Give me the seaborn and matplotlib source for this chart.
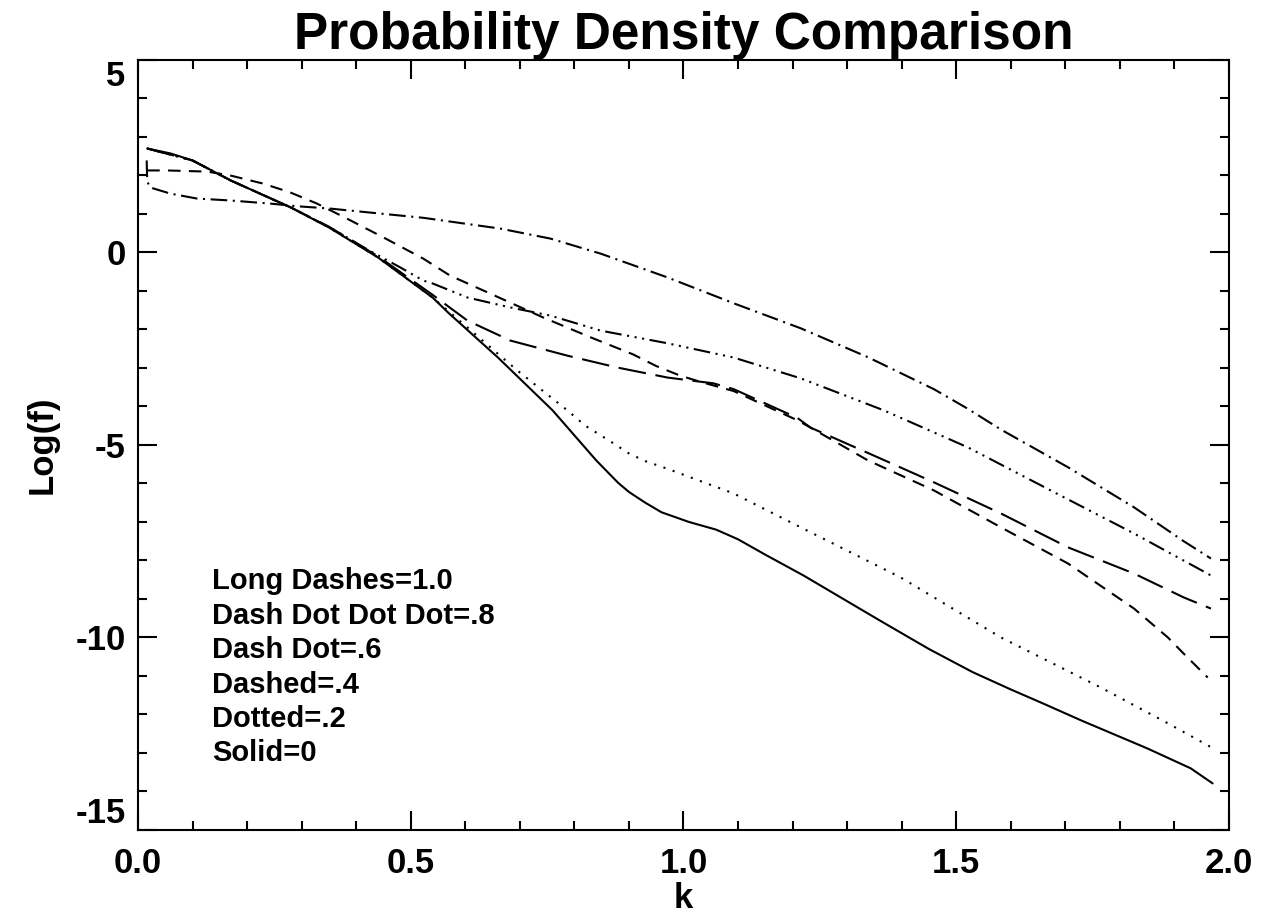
import numpy as np
import pandas as pd
import seaborn as sns
import matplotlib.pyplot as plt
from matplotlib.ticker import MultipleLocator

# values
k_solid = [0.017, 0.06, 0.10, 0.17, 0.28, 0.35, 0.44, 0.54, 0.57, 0.66, 0.76, 0.80, 0.84,
           0.88, 0.90, 0.93, 0.96, 1.01, 1.06, 1.10, 1.15, 1.22, 1.36, 1.45, 1.53, 1.60,
           1.66, 1.73, 1.85, 1.93, 1.97]
f_solid = [2.70, 2.57, 2.39, 1.87, 1.17, 0.65, -0.13, -1.17, -1.58, -2.73, -4.10, -4.75, -5.40,
           -5.98, -6.22, -6.50, -6.75, -7.00, -7.20, -7.45, -7.85, -8.39, -9.56, -10.30, -10.90,
           -11.35, -11.72, -12.16, -12.88, -13.40, -13.79]

k_dotted = [0.017, 0.10, 0.17, 0.28, 0.35, 0.44, 0.54, 0.60, 0.695, 0.787, 0.82, 0.872, 0.90,
            0.93, 0.971, 1.02, 1.092, 1.215, 1.398, 1.582, 1.765, 1.888, 1.971]
f_dotted = [2.70, 2.39, 1.87, 1.17, 0.65, -0.13, -1.17, -1.90, -3.06, -4.10, -4.50, -4.96, -5.22,
            -5.42, -5.62, -5.88, -6.26, -7.14, -8.44, -10.00, -11.30, -12.23, -12.88]

k_dashed = [0.017, 0.053, 0.127, 0.169, 0.229, 0.279, 0.328, 0.383, 0.450, 0.523, 0.572,
            0.646, 0.743, 0.829, 0.908, 0.95, 0.994, 1.031, 1.092, 1.209, 1.233, 1.338, 1.459,
            1.582, 1.705, 1.826, 1.888, 1.917, 1.961]
f_dashed = [2.13, 2.13, 2.10, 2.00, 1.79, 1.56, 1.27, 0.88, 0.39, -0.16, -0.60,
            -1.07, -1.69, -2.20, -2.65, -2.95, -3.20, -3.36, -3.60, -4.36, -4.55, -5.40, -6.18,
            -7.14, -8.08, -9.25, -10.00, -10.42, -11.04]

k_dashdot = [0.016, 0.017, 0.022, 0.059, 0.108, 0.169, 0.242, 0.292, 0.352, 0.444, 0.523,
             0.664, 0.756, 0.848, 0.971, 1.092, 1.215, 1.338, 1.459, 1.52, 1.582, 1.705, 1.826,
             1.917, 1.967]
f_dashdot = [2.39, 1.85, 1.69, 1.53, 1.40, 1.35, 1.27, 1.20, 1.14, 1.01, 0.90,
             0.62, 0.36, -0.03, -0.65, -1.32, -1.97, -2.72, -3.55, -4.05, -4.60, -5.58, -6.62,
             -7.50, -7.95]

k_dash3dot = [0.017, 0.10, 0.17, 0.28, 0.35, 0.376, 0.42, 0.481, 0.523, 0.541, 0.604, 0.683,
              0.756, 0.848, 0.971, 1.092, 1.215, 1.367, 1.521, 1.673, 1.826, 1.967]
f_dash3dot = [2.70, 2.39, 1.87, 1.17, 0.66, 0.45, 0.08, -0.39, -0.73, -0.81, -1.17, -1.43,
              -1.64, -2.03, -2.36, -2.73, -3.27, -4.10, -5.06, -6.18, -7.30, -8.39]

k_longdash = [0.017, 0.10, 0.17, 0.28, 0.35, 0.44, 0.54, 0.604, 0.683, 0.787, 0.879, 0.971,
              1.055, 1.092, 1.209, 1.233, 1.356, 1.459, 1.582, 1.705, 1.826, 1.917, 1.967]
f_longdash = [2.70, 2.39, 1.87, 1.17, 0.67, -0.10, -1.10, -1.77, -2.29, -2.68, -2.99, -3.25,
              -3.40, -3.55, -4.30, -4.55, -5.32, -5.97, -6.78, -7.66, -8.34, -8.96, -9.25]

labels = ["Long Dashes=1.0", "Dash Dot Dot Dot=.8", "Dash Dot=.6",
          "Dashed=.4", "Dotted=.2", "Solid=0"]

y_ticks = [-15, -10, -5, 0, 5]

series = {
    "solid": (k_solid, f_solid),
    "dotted": (k_dotted, f_dotted),
    "dashed": (k_dashed, f_dashed),
    "dashdot": (k_dashdot, f_dashdot),
    "dash3dot": (k_dash3dot, f_dash3dot),
    "longdash": (k_longdash, f_longdash),
}
df = pd.concat([pd.DataFrame({"k": k, "logf": f, "style": name})
                for name, (k, f) in series.items()], ignore_index=True)

sns.set_theme(style="ticks")
plt.rcParams["font.family"] = ["Liberation Sans", "DejaVu Sans"]
plt.rcParams["font.weight"] = "bold"
plt.rcParams["lines.scale_dashes"] = False
for key in ["text.color", "axes.labelcolor", "xtick.color", "ytick.color", "axes.edgecolor"]:
    plt.rcParams[key] = "black"

dashes = {
    "solid": "",
    "dotted": (1.5, 5.5),
    "dashed": (9, 6),
    "dashdot": (12, 4, 1.5, 4),
    "dash3dot": (12, 4, 1.5, 4, 1.5, 4, 1.5, 4),
    "longdash": (20, 7),
}

fig = plt.figure(figsize=(12.75, 9.18), dpi=100)
ax = fig.add_axes([0.1082, 0.0959, 0.8557, 0.8388])

sns.lineplot(data=df, x="k", y="logf", style="style", dashes=dashes,
             color="black", linewidth=1.5, estimator=None, sort=False,
             legend=False, ax=ax)

ax.set_xlim(0, 2.0)
ax.set_ylim(-15, 5)
ax.xaxis.set_major_locator(MultipleLocator(0.5))
ax.xaxis.set_minor_locator(MultipleLocator(0.1))
ax.yaxis.set_minor_locator(MultipleLocator(1))
ax.xaxis.set_major_formatter(plt.FuncFormatter(lambda v, p: f"{v:.1f}"))
ax.tick_params(which="both", direction="in", top=True, right=True, width=1.5,
               labelsize=25, color="black")
ax.tick_params(which="major", length=14)
ax.tick_params(axis="y", which="major", pad=9)
ax.tick_params(axis="x", which="major", pad=12)
ax.tick_params(which="minor", length=6.5)
ax.set_yticks(y_ticks, [str(v) for v in y_ticks])
for s in ax.spines.values():
    s.set_linewidth(1.5)

ax.set_xlabel("k", fontsize=25, fontweight="bold", labelpad=2)
ax.set_ylabel("Log(f)", fontsize=25, fontweight="bold", labelpad=12)
ax.set_title("Probability Density Comparison", fontsize=37, fontweight="bold", pad=8)

for i, txt in enumerate(labels):
    ax.text(0.068, 0.323 - i * 0.0447, txt, transform=ax.transAxes,
            fontsize=21, fontweight="bold", va="center", ha="left")

# end labels on the y axis sit inside the frame
for tick in ax.yaxis.get_major_ticks():
    tick.label1.set_fontweight("bold")
    if tick.get_loc() == y_ticks[0]:
        tick.label1.set_verticalalignment("bottom")
    elif tick.get_loc() == y_ticks[-1]:
        tick.label1.set_verticalalignment("top")
for tick in ax.xaxis.get_major_ticks():
    tick.label1.set_fontweight("bold")

fig.savefig("out.png", dpi=100, facecolor="white")
